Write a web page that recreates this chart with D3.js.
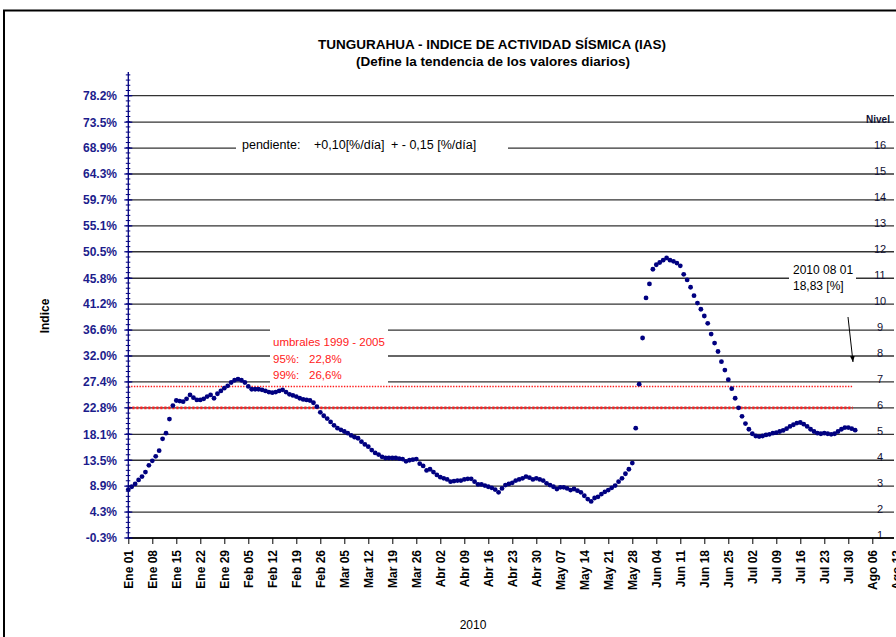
<!DOCTYPE html>
<html>
<head>
<meta charset="utf-8">
<script src="https://cdn.jsdelivr.net/npm/d3@7"></script>
<style>
  body { margin: 0; background: #fff; }
  svg { font-family: "Liberation Sans", Arial, sans-serif; }
</style>
</head>
<body>
<div id="graph"></div>
<script>
// ---- data ----
const startDate = new Date(2010, 0, 1);
const endDate = new Date(2010, 7, 13);
const monthNames = ["Ene", "Feb", "Mar", "Abr", "May", "Jun", "Jul", "Ago", "Sep", "Oct", "Nov", "Dic"];

const yTicks = [-0.3, 4.3, 8.9, 13.5, 18.1, 22.8, 27.4, 32.0, 36.6, 41.2, 45.8, 50.5, 55.1, 59.7, 64.3, 68.9, 73.5, 78.2];
const yTickLabels = ["-0.3%", "4.3%", "8.9%", "13.5%", "18.1%", "22.8%", "27.4%", "32.0%", "36.6%", "41.2%",
  "45.8%", "50.5%", "55.1%", "59.7%", "64.3%", "68.9%", "73.5%", "78.2%"];
const nivelLabels = ["1", "2", "3", "4", "5", "6", "7", "8", "9", "10", "11", "12", "13", "14", "15", "16", "Nivel"];

// daily IAS [%], 2010-01-01 .. 2010-08-01
const iasValues = [
  8.3, 8.8, 9.3, 10.0, 10.6, 11.4, 12.6, 13.4, 14.2, 15.2,
  17.3, 18.3, 20.8, 23.2, 24.1, 24.0, 23.9, 24.4, 25.1, 24.6,
  24.2, 24.2, 24.4, 24.8, 25.1, 24.5, 25.3, 25.8, 26.3, 26.7,
  27.3, 27.7, 27.9, 27.7, 27.3, 26.6, 26.1, 26.1, 26.1, 26.0,
  25.8, 25.6, 25.5, 25.6, 25.8, 26.0, 25.6, 25.2, 25.0, 24.8,
  24.5, 24.3, 24.2, 24.1, 23.7, 23.0, 22.0, 21.4, 20.9, 20.3,
  19.7, 19.2, 18.9, 18.6, 18.3, 17.9, 17.6, 17.4, 16.8, 16.3,
  15.9, 15.3, 14.8, 14.5, 14.1, 13.9, 13.9, 13.9, 13.9, 13.8,
  13.7, 13.3, 13.5, 13.6, 13.7, 12.9, 12.5, 11.7, 11.9, 11.4,
  10.9, 10.5, 10.3, 10.1, 9.7, 9.8, 9.9, 9.9, 10.1, 10.2,
  10.2, 9.7, 9.2, 9.2, 9.0, 8.8, 8.6, 8.3, 7.8, 8.5,
  9.1, 9.3, 9.5, 9.9, 10.1, 10.3, 10.6, 10.4, 10.1, 10.3,
  10.1, 9.9, 9.4, 9.1, 8.8, 8.4, 8.7, 8.7, 8.5, 8.2,
  8.4, 8.1, 7.8, 7.2, 6.6, 6.2, 6.8, 7.0, 7.5, 7.9,
  8.2, 8.6, 9.0, 9.7, 10.3, 11.1, 11.9, 13.0, 19.2, 27.0,
  35.2, 42.3, 44.8, 47.4, 48.2, 48.6, 49.0, 49.4, 49.0, 48.8,
  48.5, 48.0, 46.5, 45.5, 44.2, 42.7, 41.4, 40.3, 39.1, 37.8,
  35.9, 34.3, 32.8, 31.0, 29.5, 27.8, 26.2, 24.5, 22.8, 21.3,
  20.0, 19.0, 18.2, 17.8, 17.7, 17.8, 18.0, 18.1, 18.3, 18.4,
  18.6, 18.8, 19.1, 19.5, 19.8, 20.1, 20.2, 19.9, 19.5, 19.0,
  18.6, 18.3, 18.2, 18.3, 18.2, 18.1, 18.2, 18.6, 19.0, 19.3,
  19.3, 19.1, 18.83
];

const threshold95 = 22.8;
const threshold99 = 26.6;
const umbralLines = ["umbrales 1999 - 2005", "95%:", "22,8%", "99%:", "26,6%"];

function Chart() {
  const width = 896, height = 637;
  const config = { left: 128.3, right: 896.3, top: 95.7, bottom: 538, gridEnd: 894 };
  const navy = "#000080";

  const svg = d3.select("#graph").append("svg")
    .attr("width", width).attr("height", height);

  // outer frame (chart area border)
  svg.append("path")
    .attr("d", `M4,${height} V10.5 H${width}`)
    .attr("fill", "none").attr("stroke", "#000").attr("stroke-width", 2);

  const data = iasValues.map((v, i) => ({ date: d3.timeDay.offset(startDate, i), value: v }));

  const x = d3.scaleTime().domain([startDate, endDate]).range([config.left, config.right]);
  const y = d3.scaleLinear().domain([yTicks[0], yTicks[yTicks.length - 1]]).range([config.bottom, config.top]);

  // gridlines
  svg.append("g").selectAll("line").data(yTicks).enter().append("line")
    .attr("x1", config.left).attr("x2", config.gridEnd)
    .attr("y1", d => y(d)).attr("y2", d => y(d))
    .attr("stroke", "#333").attr("stroke-width", 1.3);

  // white text boxes that break the gridlines
  const boxes = [
    { x: 236, y: 138, w: 272, h: 17 },
    { x: 270, y: 327, w: 118, h: 57 },
    { x: 789, y: 260, w: 67, h: 32 }
  ];
  svg.append("g").selectAll("rect").data(boxes).enter().append("rect")
    .attr("x", d => d.x).attr("y", d => d.y).attr("width", d => d.w).attr("height", d => d.h)
    .attr("fill", "#fff");

  // Nivel scale on the right
  svg.append("g").selectAll("text").data(nivelLabels).enter().append("text")
    .attr("x", (d, i) => (i === 16 ? 878 : 880))
    .attr("y", (d, i) => y(yTicks[i]) + 1)
    .attr("text-anchor", "middle")
    .style("font-size", (d, i) => (i === 16 ? "10px" : "11px"))
    .style("font-weight", (d, i) => (i === 16 ? "bold" : "normal"))
    .attr("fill", "#111133")
    .text(d => d);

  // threshold lines
  svg.append("line")
    .attr("x1", config.left).attr("x2", 853)
    .attr("y1", y(threshold99)).attr("y2", y(threshold99))
    .attr("stroke", "#ff1a1a").attr("stroke-width", 1.4).attr("stroke-dasharray", "1.4,1.4");
  svg.append("line")
    .attr("x1", config.left).attr("x2", 853)
    .attr("y1", y(threshold95)).attr("y2", y(threshold95))
    .attr("stroke", "#ff2222").attr("stroke-width", 2.6).attr("stroke-dasharray", "2.2,1.8");

  // x axis
  const xTicks = d3.timeDay.range(startDate, d3.timeDay.offset(endDate, 1), 7);
  const fmtDay = d3.timeFormat("%d");
  const xAxis = d3.axisBottom(x)
    .tickValues(xTicks)
    .tickSize(6)
    .tickFormat(d => `${monthNames[d.getMonth()]} ${fmtDay(d)}`);

  const gx = svg.append("g")
    .attr("transform", `translate(0,${config.bottom})`)
    .call(xAxis);
  gx.select(".domain").attr("stroke", "#000").attr("stroke-width", 1.3).attr("d", `M${config.left},0H${config.gridEnd}`);
  gx.selectAll(".tick line").attr("stroke", "#000");
  gx.selectAll(".tick text")
    .attr("transform", "rotate(-90)")
    .attr("text-anchor", "end")
    .attr("x", -12).attr("y", 0).attr("dy", "0.36em")
    .style("font-size", "12px").style("font-weight", "bold")
    .attr("fill", "#000");

  // y axis
  const gy = svg.append("g");
  gy.append("line")
    .attr("x1", config.left).attr("x2", config.left)
    .attr("y1", config.bottom).attr("y2", 72)
    .attr("stroke", navy).attr("stroke-width", 1.3);
  const step = (yTicks[yTicks.length - 1] - yTicks[0]) / (yTicks.length - 1);
  const minor = d3.range(0, 200).map(k => yTicks[0] + k * step / 5).filter(v => y(v) >= 72);
  gy.selectAll(".minor").data(minor).enter().append("line")
    .attr("class", "minor")
    .attr("x1", config.left - 2.5).attr("x2", config.left + 2)
    .attr("y1", d => y(d)).attr("y2", d => y(d))
    .attr("stroke", navy).attr("stroke-width", 1);
  gy.selectAll(".major").data(yTicks).enter().append("line")
    .attr("class", "major")
    .attr("x1", config.left - 4).attr("x2", config.left + 4)
    .attr("y1", d => y(d)).attr("y2", d => y(d))
    .attr("stroke", navy).attr("stroke-width", 1.2);
  gy.selectAll("text").data(yTicks).enter().append("text")
    .attr("x", 117).attr("y", d => y(d)).attr("dy", "0.36em")
    .attr("text-anchor", "end")
    .style("font-size", "12px").style("font-weight", "bold")
    .attr("fill", "#1c1c8c")
    .text((d, i) => yTickLabels[i]);

  // data points
  svg.append("g").selectAll("circle").data(data).enter().append("circle")
    .attr("cx", d => x(d.date))
    .attr("cy", d => y(d.value))
    .attr("r", 2.4)
    .attr("fill", navy);

  // titles
  svg.append("text").attr("x", 492).attr("y", 49).attr("text-anchor", "middle")
    .style("font-size", "13.5px").style("font-weight", "bold")
    .text("TUNGURAHUA - INDICE DE ACTIVIDAD SÍSMICA (IAS)");
  svg.append("text").attr("x", 493).attr("y", 66).attr("text-anchor", "middle")
    .style("font-size", "13.5px").style("font-weight", "bold")
    .text("(Define la tendencia de los valores diarios)");

  svg.append("text")
    .attr("transform", "translate(49,316) rotate(-90)")
    .attr("text-anchor", "middle")
    .style("font-size", "12px").style("font-weight", "bold")
    .text("Indice");
  svg.append("text").attr("x", 473).attr("y", 629).attr("text-anchor", "middle")
    .style("font-size", "12px")
    .text("2010");

  // pendiente note
  const pend = svg.append("g").style("font-size", "12.5px").attr("fill", "#000");
  pend.append("text").attr("x", 242).attr("y", 149).text("pendiente:");
  pend.append("text").attr("x", 314).attr("y", 149).text("+0,10[%/día]");
  pend.append("text").attr("x", 391).attr("y", 149).text("+ - 0,15 [%/día]");

  // thresholds note
  const umb = svg.append("g").style("font-size", "11.5px").attr("fill", "#ff2020");
  umb.append("text").attr("x", 273).attr("y", 346).text(umbralLines[0]);
  umb.append("text").attr("x", 273).attr("y", 362.5).text(umbralLines[1]);
  umb.append("text").attr("x", 309).attr("y", 362.5).text(umbralLines[2]);
  umb.append("text").attr("x", 273).attr("y", 378.5).text(umbralLines[3]);
  umb.append("text").attr("x", 309).attr("y", 378.5).text(umbralLines[4]);

  // last value note + arrow
  const last = data[data.length - 1];
  const note = svg.append("g").style("font-size", "12px").attr("fill", "#000");
  note.append("text").attr("x", 793).attr("y", 273.5).text(d3.timeFormat("%Y %m %d")(last.date));
  note.append("text").attr("x", 793).attr("y", 289.5).text(`${String(last.value).replace(".", ",")} [%]`);

  svg.append("defs").append("marker")
    .attr("id", "arrow").attr("viewBox", "0 0 10 10")
    .attr("refX", 10).attr("refY", 5)
    .attr("markerWidth", 6).attr("markerHeight", 6)
    .attr("orient", "auto")
    .append("path").attr("d", "M0,1 L10,5 L0,9 Z").attr("fill", "#000");
  svg.append("line")
    .attr("x1", 848).attr("y1", 317).attr("x2", 853).attr("y2", 362)
    .attr("stroke", "#000").attr("stroke-width", 1)
    .attr("marker-end", "url(#arrow)");
}

Chart();
</script>
</body>
</html>
